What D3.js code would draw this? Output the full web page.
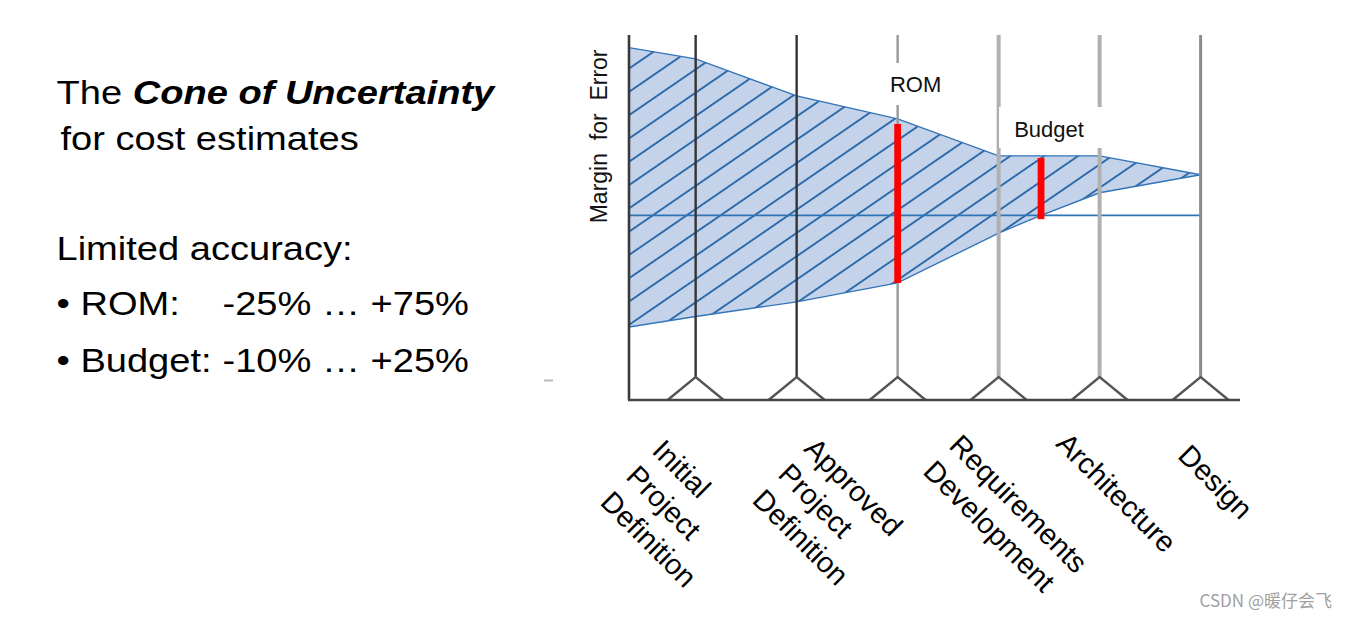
<!DOCTYPE html>
<html><head><meta charset="utf-8">
<script src="https://cdn.jsdelivr.net/npm/d3@7"></script>
<style>
html,body{margin:0;padding:0;background:#fff;}
svg{display:block;font-family:"Liberation Sans",Arial,sans-serif;}
</style>
</head><body>
<svg id="chart" width="1348" height="618"></svg>
<script>
// ---------------- data ----------------
const milestones = [0, 1, 2, 3, 4, 5];
const categories = [
  ["Initial", "Project", "Definition"],
  ["Approved", "Project", "Definition"],
  ["Requirements", "Development"],
  ["Architecture"],
  ["Design"]
];
const upperX = [-0.66, 0, 1, 2, 3, 4, 5];
const upperMargin = [4.0, 3.73, 2.85, 2.30, 1.42, 1.42, 0.97];
const lowerX = [-0.66, 0, 1, 2, 3, 3.42, 4, 5];
const lowerMargin = [-2.66, -2.41, -2.06, -1.61, -0.42, 0, 0.54, 0.97];
const estimateNames = ["ROM", "Budget"];
const estimateX = [2, 3.42];
const estimateHigh = [2.18, 1.37];
const estimateLow = [-1.61, -0.09];
const yAxisTitle = "Margin  for  Error";
const titleParts = ["The ", "Cone of Uncertainty"];
const subtitle = "for cost estimates";
const accuracyHeading = "Limited accuracy:";
const accuracyNames = ["\u2022 ROM:", "\u2022 Budget:"];
const accuracyRanges = ["-25% \u2026 +75%", "-10% \u2026 +25%"];
const watermark = "CSDN @暖仔会飞";

// ---------------- layout ----------------
const svg = d3.select("#chart");
const x = d3.scaleLinear().domain([-0.66, 5.39]).range([629, 1240]);
const y = d3.scaleLinear().domain([-4.4, 4.3]).range([400, 35]);
const baseY = y(-4.4), topY = y(4.3);
const tentH = 23, tentW = 28;

const defs = svg.append("defs");
const pat = defs.append("pattern").attr("id", "hatch")
  .attr("patternUnits", "userSpaceOnUse").attr("width", 20).attr("height", 19.2)
  .attr("patternTransform", "rotate(-34.5)");
pat.append("line").attr("x1", -1).attr("x2", 21).attr("y1", 9.6).attr("y2", 9.6)
  .attr("stroke", "#2263a6").attr("stroke-width", 1.8);

// band
const upperPts = upperX.map((d, i) => [x(d), y(upperMargin[i])]);
const lowerPts = lowerX.map((d, i) => [x(d), y(lowerMargin[i])]);
const line = d3.line();
const closed = line(upperPts.concat(lowerPts.slice().reverse())) + "Z";
const bandG = svg.append("g");
bandG.append("path").attr("d", closed).attr("fill", "#c5d3ea");
bandG.append("path").attr("d", closed).attr("fill", "url(#hatch)");
bandG.append("path").attr("d", line(upperPts)).attr("fill", "none").attr("stroke", "#3474b8").attr("stroke-width", 1.4);
bandG.append("path").attr("d", line(lowerPts)).attr("fill", "none").attr("stroke", "#3474b8").attr("stroke-width", 1.4);

// zero line
svg.append("line").attr("x1", x(-0.66)).attr("x2", x(5)).attr("y1", y(0)).attr("y2", y(0))
  .attr("stroke", "#2f74b5").attr("stroke-width", 1.6);

// milestone lines
const lineColors = ["#333", "#333", "#999", "#b0b0b0", "#b0b0b0", "#8c8c8c"];
const lineWidths = [2.4, 2.4, 2.4, 4, 4, 3];
svg.append("g").selectAll("line").data(milestones).join("line")
  .attr("x1", d => x(d)).attr("x2", d => x(d))
  .attr("y1", topY).attr("y2", baseY - tentH)
  .attr("stroke", (d, i) => lineColors[i]).attr("stroke-width", (d, i) => lineWidths[i]);
// tents
svg.append("g").selectAll("path").data(milestones).join("path")
  .attr("d", d => `M${x(d) - tentW},${baseY}L${x(d)},${baseY - tentH}L${x(d) + tentW},${baseY}`)
  .attr("fill", "none").attr("stroke", "#555").attr("stroke-width", 2.4);
// axes
svg.append("line").attr("x1", x(-0.66)).attr("x2", x(-0.66)).attr("y1", topY).attr("y2", baseY)
  .attr("stroke", "#3a3a3a").attr("stroke-width", 2.6);
svg.append("line").attr("x1", x(-0.66) - 1).attr("x2", x(5.39)).attr("y1", baseY).attr("y2", baseY)
  .attr("stroke", "#444").attr("stroke-width", 2.6);

// red estimate bars
svg.append("g").selectAll("line").data(estimateX).join("line")
  .attr("x1", d => x(d)).attr("x2", d => x(d))
  .attr("y1", (d, i) => y(estimateHigh[i])).attr("y2", (d, i) => y(estimateLow[i]))
  .attr("stroke", "#ff0000").attr("stroke-width", 6.8);

// estimate labels with white boxes
const boxes = [{dx: 18, x0: -32, x1: 32, y0: 63, y1: 105, ty: 92}, {dx: 8, x0: -50, x1: 55, y0: 107, y1: 148, ty: 137}];
estimateNames.forEach((n, i) => {
  const b = boxes[i];
  const cx = x(estimateX[i]) + b.dx;
  svg.append("rect").attr("x", cx + b.x0).attr("y", b.y0).attr("width", b.x1 - b.x0).attr("height", b.y1 - b.y0).attr("fill", "#fff");
  svg.append("text").attr("x", cx).attr("y", b.ty).attr("text-anchor", "middle")
    .attr("font-size", 22).attr("fill", "#111").text(n);
});

// y axis title
svg.append("text").attr("transform", `translate(${x(-0.66) - 22},${y(0) - 79}) rotate(-90)`)
  .attr("text-anchor", "middle").attr("font-size", 23).style("white-space", "pre").attr("fill", "#111")
  .text(yAxisTitle);

// x category labels
const labelDx = [-45, 6, 50, 56, 77];
const labelY = [452, 450, 447, 445, 457];
categories.forEach((lines, i) => {
  const t = svg.append("text")
    .attr("transform", `translate(${x(milestones[i]) + labelDx[i]},${labelY[i]}) rotate(45)`)
    .attr("font-size", 29).attr("fill", "#000");
  lines.forEach((ln, j) => t.append("tspan").attr("x", 0).attr("y", j * 36.5).text(ln));
});

// left texts
function stretched(xp, yp) {
  return svg.append("text").attr("transform", `translate(${xp},${yp}) scale(1.12,1)`)
    .attr("font-size", 34).attr("fill", "#000");
}
const t1 = stretched(56.5, 104);
t1.append("tspan").text(titleParts[0]);
t1.append("tspan").attr("font-weight", "bold").attr("font-style", "italic").text(titleParts[1]);
stretched(60.5, 150).text(subtitle);
stretched(56.5, 260).text(accuracyHeading);
const rowY = [315, 371.5];
accuracyNames.forEach((n, i) => {
  stretched(56.5, rowY[i]).text(n);
  stretched(222.5, rowY[i]).text(accuracyRanges[i]);
});

// small grey mark
svg.append("rect").attr("x", 544).attr("y", 379.5).attr("width", 9).attr("height", 2).attr("fill", "#bbb");

// watermark
svg.append("text").attr("x", 1332).attr("y", 607).attr("text-anchor", "end")
  .attr("font-family", "'Noto Sans CJK SC','Liberation Sans',sans-serif")
  .attr("font-size", 17).attr("fill", "#a0a0a0").text(watermark);
</script>
</body></html>
